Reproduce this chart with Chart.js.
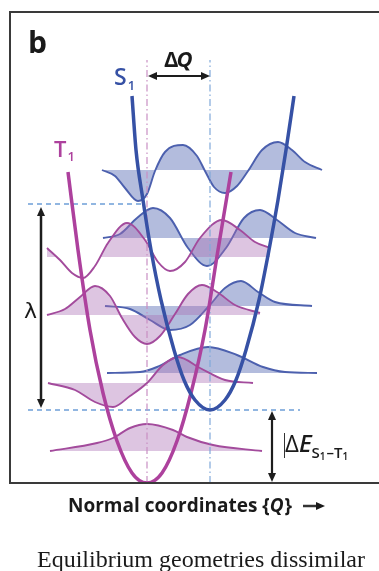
<!DOCTYPE html>
<html>
<head>
<meta charset="utf-8">
<script src="https://cdn.jsdelivr.net/npm/chart.js@4.4.0/dist/chart.umd.min.js"></script>
<style>
  html, body { margin:0; padding:0; background:#fff; }
  canvas { display:block; }
</style>
</head>
<body>
<canvas id="diagram" width="379" height="571"></canvas>
<script>
// Q = normal coordinate (px from frame left), E = energy (px up from frame bottom)

// potential curves
var t1Curve = [[58,311],[68,233],[80,153],[93,90],[107,42],[122,10],[137,0],[152,10],[167,42],[181,90],[195,153],[208,233],[221,311]];
var s1Curve = [[122,387],[126,333],[133,283],[141,233],[151,183],[164,133],[174,103],[185,83],[200,73],[215,83],[226,103],[236,133],[249,183],[259,233],[268,283],[276,333],[284,387]];

// vibrational levels (baselines)
var t1Levels = [32, 100, 168, 235];
var s1Levels = [110, 177, 245, 313];

// wavefunctions T1
var t1Wave0 = [[40,32],[87,40],[103,45],[120,55],[137,59],[163,53],[177,46],[203,38],[252,32]];
var t1Wave1 = [[38,100],[65,93],[85,81],[103,76],[120,87],[137,100],[153,118],[168,126],[190,115],[215,103],[243,100]];
var t1Wave2 = [[37,168],[55,174],[70,186],[85,197],[100,187],[112,165],[125,146],[137,139],[150,147],[165,169],[178,189],[192,198],[207,191],[225,178],[250,170]];
var t1Wave3 = [[37,235],[50,223],[62,210],[73,205],[85,217],[98,240],[117,260],[135,243],[148,221],[160,212],[175,221],[190,245],[212,263],[230,253],[245,241],[260,235]];

// wavefunctions S1
var s1Wave0 = [[97,110],[130,111],[147,116],[170,128],[198,136],[227,128],[253,116],[275,111],[307,110]];
var s1Wave1 = [[95,177],[120,174],[140,163],[160,153],[180,158],[199,177],[215,195],[231,202],[248,191],[265,181],[302,177]];
var s1Wave2 = [[93,245],[110,249],[127,265],[143,275],[160,265],[178,235],[197,217],[216,235],[234,265],[250,273],[267,263],[285,250],[306,245]];
var s1Wave3 = [[92,313],[105,307],[115,295],[128,282],[137,289],[145,312],[155,331],[173,338],[187,327],[195,312],[204,296],[215,290],[227,297],[238,312],[252,333],[268,341],[282,333],[295,321],[312,313]];

// equilibrium geometries and guide lines
var eqQ = [137, 200];
var guideTop = 423;
var lambdaLine = [[18,279],[135,279]];
var s1MinLine = [[18,73],[290,73]];

var BLUE = '#3651a5', BLUE_W = '#4c60ae', BLUE_F = 'rgba(75,95,175,0.42)';
var MAG = '#ad419d', MAG_W = '#a34b9c', MAG_F = 'rgba(170,110,180,0.4)';

function pts(a){ return a.map(function(p){ return {x:p[0], y:p[1]}; }); }

function wave(arr, base, line, fillc, floor){
    return {
        data: pts(arr),
        borderColor: line,
        borderWidth: 1.9,
        cubicInterpolationMode: 'monotone',
        fill: floor === undefined ? {value: base} : {value: floor, above: fillc, below: 'rgba(0,0,0,0)'},
        backgroundColor: fillc
    };
}

var datasets = [
    {data: pts(s1Curve), borderColor: BLUE, borderWidth: 3.5, cubicInterpolationMode:'monotone', fill:false},
    {data: pts(t1Curve), borderColor: MAG, borderWidth: 3.5, cubicInterpolationMode:'monotone', fill:false},
    {data: [{x:eqQ[0],y:0},{x:eqQ[0],y:guideTop}], borderColor:'#c88fc3', borderWidth:1.2, borderDash:[7,3,1.5,3], fill:false},
    {data: [{x:eqQ[1],y:0},{x:eqQ[1],y:guideTop}], borderColor:'#80a9da', borderWidth:1.2, borderDash:[7,3,1.5,3], fill:false},
    {data: pts(lambdaLine), borderColor:'#6d9ed8', borderWidth:1.5, borderDash:[5,4], fill:false},
    {data: pts(s1MinLine), borderColor:'#6d9ed8', borderWidth:1.5, borderDash:[5,4], fill:false},
    wave(t1Wave3, t1Levels[3], MAG_W, MAG_F, t1Levels[3] - 9),
    wave(t1Wave2, t1Levels[2], MAG_W, MAG_F),
    wave(t1Wave1, t1Levels[1], MAG_W, MAG_F),
    wave(t1Wave0, t1Levels[0], MAG_W, MAG_F),
    wave(s1Wave3, s1Levels[3], BLUE_W, BLUE_F),
    wave(s1Wave2, s1Levels[2], BLUE_W, BLUE_F),
    wave(s1Wave1, s1Levels[1], BLUE_W, BLUE_F),
    wave(s1Wave0, s1Levels[0], BLUE_W, BLUE_F)
];

function arrowHead(c, x, y, dx, dy){
    var len = 9, w = 4;
    var L = Math.sqrt(dx*dx+dy*dy); dx/=L; dy/=L;
    c.beginPath();
    c.moveTo(x, y);
    c.lineTo(x - dx*len - dy*w, y - dy*len + dx*w);
    c.lineTo(x - dx*len + dy*w, y - dy*len - dx*w);
    c.closePath();
    c.fill();
}
function arrow(c, x1, y1, x2, y2, both, lw){
    c.lineWidth = lw;
    c.beginPath();
    var dx = x2-x1, dy = y2-y1, L = Math.sqrt(dx*dx+dy*dy);
    var ux = dx/L, uy = dy/L;
    c.moveTo(both ? x1+ux*6 : x1, both ? y1+uy*6 : y1);
    c.lineTo(x2-ux*6, y2-uy*6);
    c.stroke();
    arrowHead(c, x2, y2, dx, dy);
    if (both) arrowHead(c, x1, y1, -dx, -dy);
}
// draw pieces one after another: [text, font, dy, extra gap]
function run(c, x, y, parts){
    parts.forEach(function(p){
        c.font = p[1];
        c.fillText(p[0], x, y + (p[2] || 0));
        x += c.measureText(p[0]).width + (p[3] || 0);
    });
    return x;
}

var decor = {
    id: 'decor',
    afterDraw: function(chart){
        var c = chart.ctx, xs = chart.scales.x, ys = chart.scales.y;
        var X = function(v){ return xs.getPixelForValue(v); };
        var Y = function(v){ return ys.getPixelForValue(v); };
        var a = chart.chartArea;
        c.save();
        // frame
        c.strokeStyle = '#3a3a3a'; c.lineWidth = 2;
        c.beginPath();
        c.moveTo(379, a.top); c.lineTo(a.left, a.top); c.lineTo(a.left, a.bottom); c.lineTo(379, a.bottom);
        c.stroke();

        // arrows
        c.strokeStyle = '#1d1d1d'; c.fillStyle = '#1d1d1d';
        arrow(c, X(31), Y(276), X(31), Y(75), true, 2.5);
        arrow(c, X(262), Y(72), X(262), Y(1), true, 2.2);
        arrow(c, X(eqQ[0]+1), Y(407), X(eqQ[1]), Y(407), true, 2);

        c.textBaseline = 'alphabetic';
        // panel letter
        c.fillStyle = '#1a1a1a';
        c.font = 'bold 30px "Open Sans"';
        c.fillText('b', 28, 53);

        // S1 / T1 labels
        c.fillStyle = BLUE;
        run(c, 114, 85, [['S', '600 23px "Open Sans"', 0, 1], ['1', '600 13px "Open Sans"', 5]]);
        c.fillStyle = MAG;
        run(c, 54, 157, [['T', '600 22px "Open Sans"', 0, 1], ['1', '600 13px "Open Sans"', 4]]);

        // delta Q
        c.fillStyle = '#1a1a1a';
        run(c, 164, 67, [['\u0394', 'bold 22px "Open Sans"', 0, -2], ['Q', 'italic bold 22px "Open Sans"']]);

        // lambda
        c.font = '22px "DejaVu Sans"';
        c.fillText('\u03bb', 24, 318);

        // delta E
        c.lineWidth = 1; c.strokeStyle = '#333';
        c.beginPath(); c.moveTo(284.5, 433); c.lineTo(284.5, 458); c.stroke();
        run(c, 285, 452, [
            ['\u0394', '24px "Open Sans"'],
            ['E', 'italic 600 24px "Open Sans"', 0, 0],
            ['S', '600 15px "Open Sans"', 6],
            ['1', '600 10px "Open Sans"', 8, 1],
            ['\u2013T', '600 15px "Open Sans"', 6],
            ['1', '600 10px "Open Sans"', 8]
        ]);

        // axis title
        run(c, 68, 512, [
            ['Normal coordinates {', 'bold 19px "Open Sans"'],
            ['Q', 'italic bold 19px "Open Sans"', 0, 1],
            ['}', 'bold 19px "Open Sans"']
        ]);
        arrow(c, 303, 506, 325, 506, false, 2.5);

        // caption
        c.font = '24px "Liberation Serif"';
        c.fillText('Equilibrium geometries dissimilar', 37, 567);
        c.restore();
    }
};

var ctx = document.getElementById('diagram');
var diagram = new Chart(ctx, {
    type: 'scatter',
    data: { datasets: datasets },
    options: {
        responsive: false,
        animation: false,
        devicePixelRatio: 1,
        showLine: true,
        layout: { padding: { left: 10, top: 12, right: 0, bottom: 88 } },
        elements: { point: { radius: 0, hoverRadius: 0 } },
        scales: {
            x: { type: 'linear', min: 0, max: 369, display: false },
            y: { type: 'linear', min: 0, max: 471, display: false }
        },
        plugins: {
            legend: { display: false },
            tooltip: { enabled: false }
        }
    },
    plugins: [decor]
});
</script>
</body>
</html>
